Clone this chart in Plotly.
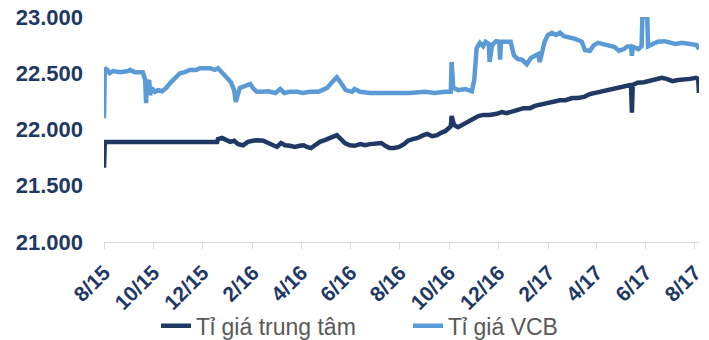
import plotly.graph_objects as go

# Tỉ giá trung tâm (SBV central rate), VND per USD
central_dates = [
    "2015-08-01", "2015-08-02", "2015-12-19", "2015-12-20", "2015-12-25", "2015-12-30",
    "2016-01-04", "2016-01-09", "2016-01-14", "2016-01-20", "2016-01-26", "2016-02-01",
    "2016-02-07", "2016-02-14", "2016-02-20", "2016-02-25", "2016-03-02", "2016-03-07",
    "2016-03-12", "2016-03-18", "2016-03-24", "2016-03-30", "2016-04-04", "2016-04-08",
    "2016-04-13", "2016-04-18", "2016-04-24", "2016-04-30", "2016-05-07", "2016-05-11",
    "2016-05-15", "2016-05-20", "2016-05-25", "2016-05-31", "2016-06-06", "2016-06-13",
    "2016-06-19", "2016-06-25", "2016-07-02", "2016-07-09", "2016-07-14", "2016-07-19",
    "2016-07-25", "2016-07-31", "2016-08-06", "2016-08-11", "2016-08-17", "2016-08-23",
    "2016-08-30", "2016-09-04", "2016-09-10", "2016-09-16", "2016-09-21", "2016-09-26",
    "2016-10-01", "2016-10-03", "2016-10-04", "2016-10-07", "2016-10-12", "2016-10-17",
    "2016-10-22", "2016-10-27", "2016-11-01", "2016-11-06", "2016-11-12", "2016-11-20",
    "2016-11-29", "2016-12-05", "2016-12-11", "2016-12-18", "2016-12-25", "2017-01-01",
    "2017-01-09", "2017-01-15", "2017-01-23", "2017-01-30", "2017-02-06", "2017-02-15",
    "2017-02-22", "2017-03-02", "2017-03-09", "2017-03-17", "2017-03-24", "2017-03-30",
    "2017-04-05", "2017-04-13", "2017-04-20", "2017-04-28", "2017-05-05", "2017-05-13",
    "2017-05-14", "2017-05-15", "2017-05-16", "2017-05-22", "2017-05-30", "2017-06-06",
    "2017-06-14", "2017-06-21", "2017-06-27", "2017-07-04", "2017-07-11", "2017-07-18",
    "2017-07-26", "2017-08-02", "2017-08-05", "2017-08-06",
]
central_rate = [
    21660, 21890, 21890, 21915, 21925, 21905,
    21890, 21900, 21870, 21860, 21890, 21900,
    21905, 21900, 21880, 21860, 21845, 21880,
    21860, 21855, 21845, 21855, 21860, 21845,
    21835, 21860, 21890, 21905, 21925, 21940,
    21950, 21915, 21880, 21860, 21855, 21870,
    21860, 21870, 21880, 21880, 21855, 21835,
    21835, 21845, 21870, 21900, 21915, 21925,
    21950, 21960, 21940, 21950, 21970, 21985,
    22015, 22030, 22120, 22040, 22020, 22040,
    22050, 22075, 22100, 22120, 22130, 22130,
    22140, 22155, 22145, 22165, 22175, 22190,
    22190, 22210, 22225, 22235, 22245, 22260,
    22260, 22280, 22280, 22290, 22315, 22325,
    22340, 22350, 22360, 22380, 22385, 22395,
    22395, 22150, 22395, 22415, 22420, 22430,
    22440, 22460, 22450, 22430, 22440, 22440,
    22450, 22460, 22450, 22325,
]

# Tỉ giá VCB (Vietcombank selling rate), VND per USD
vcb_dates = [
    "2015-08-01", "2015-08-02", "2015-08-05", "2015-08-08", "2015-08-12", "2015-08-21",
    "2015-08-31", "2015-09-02", "2015-09-08", "2015-09-18", "2015-09-21", "2015-09-22",
    "2015-09-23", "2015-09-26", "2015-09-27", "2015-09-29", "2015-10-03", "2015-10-07",
    "2015-10-12", "2015-10-17", "2015-10-22", "2015-10-28", "2015-11-03", "2015-11-09",
    "2015-11-15", "2015-11-23", "2015-11-28", "2015-12-10", "2015-12-16", "2015-12-20",
    "2015-12-25", "2015-12-31", "2016-01-05", "2016-01-09", "2016-01-11", "2016-01-14",
    "2016-01-16", "2016-01-22", "2016-01-29", "2016-02-01", "2016-02-06", "2016-02-12",
    "2016-02-20", "2016-02-29", "2016-03-06", "2016-03-11", "2016-03-18", "2016-03-27",
    "2016-04-03", "2016-04-12", "2016-04-22", "2016-04-27", "2016-05-03", "2016-05-09",
    "2016-05-15", "2016-05-21", "2016-05-26", "2016-06-03", "2016-06-06", "2016-06-13",
    "2016-06-25", "2016-07-20", "2016-08-13", "2016-09-01", "2016-09-13", "2016-09-26",
    "2016-10-03", "2016-10-04", "2016-10-06", "2016-10-12", "2016-10-21", "2016-10-29",
    "2016-11-01", "2016-11-04", "2016-11-08", "2016-11-12", "2016-11-15", "2016-11-19",
    "2016-11-20", "2016-11-23", "2016-11-28", "2016-12-02", "2016-12-03", "2016-12-04",
    "2016-12-10", "2016-12-16", "2016-12-20", "2016-12-25", "2016-12-30", "2017-01-05",
    "2017-01-10", "2017-01-15", "2017-01-19", "2017-01-21", "2017-01-24", "2017-01-27",
    "2017-01-31", "2017-02-05", "2017-02-10", "2017-02-15", "2017-02-20", "2017-02-26",
    "2017-03-06", "2017-03-14", "2017-03-18", "2017-03-24", "2017-03-29", "2017-04-03",
    "2017-04-09", "2017-04-15", "2017-04-23", "2017-04-29", "2017-05-05", "2017-05-10",
    "2017-05-14", "2017-05-15", "2017-05-16", "2017-05-23", "2017-05-27", "2017-05-28",
    "2017-06-03", "2017-06-04", "2017-06-09", "2017-06-16", "2017-06-24", "2017-07-01",
    "2017-07-08", "2017-07-16", "2017-07-23", "2017-07-29", "2017-08-03", "2017-08-06",
]
vcb_rate = [
    22100, 22545, 22530, 22500, 22520, 22510,
    22520, 22530, 22510, 22510, 22440, 22235,
    22395, 22440, 22305, 22370, 22335, 22350,
    22340, 22370, 22415, 22465, 22500, 22510,
    22530, 22530, 22545, 22545, 22530, 22545,
    22500, 22460, 22420, 22350, 22245, 22305,
    22370, 22385, 22405, 22370, 22335, 22335,
    22340, 22325, 22360, 22325, 22335, 22335,
    22325, 22335, 22335, 22350, 22370, 22420,
    22465, 22405, 22350, 22335, 22360, 22335,
    22325, 22325, 22325, 22335, 22325, 22335,
    22335, 22600, 22370, 22350, 22360, 22340,
    22440, 22725, 22770, 22740, 22780, 22760,
    22600, 22750, 22785, 22780, 22620, 22780,
    22785, 22780, 22660, 22625, 22620, 22580,
    22635, 22655, 22670, 22600, 22705, 22780,
    22840, 22860, 22840, 22860, 22830, 22820,
    22805, 22780, 22705, 22700, 22750, 22770,
    22760, 22740, 22735, 22700, 22715, 22740,
    22735, 22655, 22735, 22715, 22740, 23000,
    23000, 22740, 22760, 22780, 22785, 22770,
    22760, 22770, 22760, 22760, 22750, 22715,
]

# Axis ticks every two months, labelled m/yy
tick_dates = [
    "2015-08-01", "2015-10-01", "2015-12-01", "2016-02-01", "2016-04-01",
    "2016-06-01", "2016-08-01", "2016-10-01", "2016-12-01", "2017-02-01",
    "2017-04-01", "2017-06-01", "2017-08-01",
]
y_ticks = [21000, 21500, 22000, 22500, 23000]

NAVY = "#1F3864"
LIGHT_BLUE = "#5B9BD5"
FONT = "Arial, 'Liberation Sans', sans-serif"

fig = go.Figure()
fig.add_trace(go.Scatter(
    x=central_dates, y=central_rate, mode="lines", name="Tỉ giá trung tâm",
    line=dict(color=NAVY, width=4.5),
))
fig.add_trace(go.Scatter(
    x=vcb_dates, y=vcb_rate, mode="lines", name="Tỉ giá VCB",
    line=dict(color=LIGHT_BLUE, width=4.5),
))

fig.update_layout(
    width=709, height=340,
    margin=dict(l=104, r=10, t=17, b=98, autoexpand=False),
    paper_bgcolor="white", plot_bgcolor="white",
    separators=",.",
    font=dict(family=FONT, color=NAVY),
    showlegend=True,
    legend=dict(
        orientation="h", xref="container", yref="container",
        x=156 / 709, xanchor="left", y=0.042, yanchor="middle",
        font=dict(family=FONT, size=23, color="#595959"),
        entrywidth=207, tracegroupgap=0,
        bgcolor="rgba(0,0,0,0)",
    ),
    xaxis=dict(
        type="date", range=["2015-08-01", "2017-08-06"],
        tickvals=tick_dates, tickformat="%-m/%y", tickangle=-45,
        tickfont=dict(family=FONT, size=21, color=NAVY, weight="bold"),
        showgrid=False, zeroline=False, automargin=False,
        showline=True, linecolor="#D9D9D9", linewidth=1,
        ticks="outside", ticklen=6, tickcolor="#D9D9D9", tickwidth=1,
        ticklabelstandoff=3,
    ),
    yaxis=dict(
        range=[21000, 23000], tickvals=y_ticks, tickformat=",",
        tickfont=dict(family=FONT, size=22, color=NAVY, weight="bold"),
        showgrid=False, zeroline=False, showline=False, ticks="",
        ticklabelstandoff=20, automargin=False,
    ),
)

fig.write_html("out.html")
